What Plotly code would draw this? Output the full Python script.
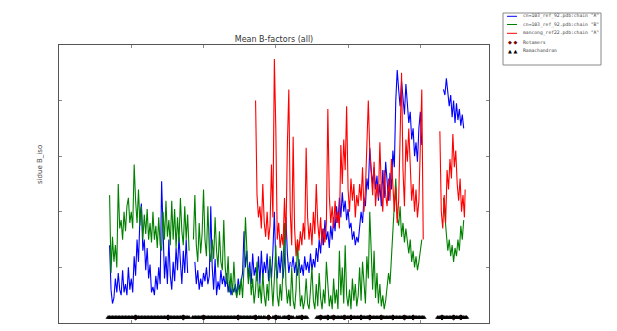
import plotly.graph_objects as go

# ---- data (residue number, mean B-factor) ----
blue_seg1_x = list(range(70, 180, 2))
blue_seg1_y = [28,12,7,9,16,11,18,12,10,19,11,14,10,20,12,16,11,24,17,30,22,38,43,26,30,19,27,16,21,11,
               13,10,17,12,20,14,51,28,16,24,14,30,17,12,22,15,27,19,31,22,14,26,18,30,18]
blue_seg2_x = list(range(188, 322, 2))
blue_seg2_y = [22,14,19,12,16,13,18,15,20,14,17,42,20,12,23,10,15,12,19,14,17,13,18,11,15,10,13,11,14,10,
               16,12,15,18,33,20,26,16,22,14,25,17,20,15,24,14,26,16,22,18,25,15,23,16,26,40,21,16,24,18,
               26,16,22,38,25,18,22]
blue_seg3_x = list(range(322, 504, 2))
blue_seg3_y = [20,24,18,22,17,23,18,21,17,24,19,22,18,25,19,23,20,27,22,30,25,34,28,37,30,33,27,35,30,38,
               33,42,36,45,38,47,40,44,37,41,34,36,30,33,28,31,29,35,40,36,45,42,52,48,63,55,50,56,48,53,
               44,50,42,55,45,58,50,44,54,48,62,56,80,91,84,78,87,80,75,86,78,72,76,66,70,60,65,58,70,76,64]
blue_seg4_x = list(range(532, 562, 2))
blue_seg4_y = [84,82,88,84,78,82,74,80,72,79,73,77,71,75,70]

green_seg1_x = list(range(70, 182, 2))
green_seg1_y = [46,18,31,22,28,20,50,34,37,30,40,33,42,45,36,40,34,57,44,36,48,35,42,30,39,32,41,30,36,29,
                40,30,35,27,38,28,26,40,30,44,31,37,28,44,30,41,27,38,29,45,33,28,42,30,39,26]
green_seg2_x = list(range(186, 504, 2))
green_seg2_y = [30,46,28,22,36,25,32,48,30,24,42,26,22,30,23,38,26,20,33,22,19,37,20,14,24,11,18,10,22,12,
                9,14,10,16,9,20,38,24,14,20,10,16,7,12,22,9,14,7,18,10,6,14,8,24,12,6,16,28,10,6,
                14,8,20,36,14,7,12,6,20,8,5,12,30,14,6,10,5,8,16,7,5,12,20,8,5,14,6,18,9,5,
                12,7,22,14,6,10,5,16,7,12,5,26,10,20,7,28,10,6,12,5,16,8,14,6,10,20,8,22,12,7,
                24,16,40,22,12,26,9,18,7,14,6,10,5,8,12,18,14,23,30,41,52,38,35,42,31,36,29,34,
                28,25,30,22,26,20,24,19,22,26,30]
green_seg3_x = list(range(532, 562, 2))
green_seg3_y = [45,37,32,26,30,24,28,22,27,24,30,26,35,30,37]

red_seg1_x = list(range(272, 506, 2))
red_seg1_y = [80,46,38,42,34,50,36,31,40,30,35,57,38,95,70,30,36,27,32,28,45,30,64,84,40,28,67,34,24,30,
              26,33,28,36,30,63,38,30,36,28,40,32,50,36,30,38,28,34,29,36,77,46,36,42,34,44,36,40,34,64,
              50,66,55,78,48,40,52,44,50,38,46,42,50,44,56,40,48,64,80,62,52,46,58,42,50,45,65,48,40,55,
              46,42,52,44,59,48,40,49,36,44,70,90,55,42,66,58,70,54,44,50,40,48,38,44,60,84,30]
red_seg2_x = [527,529,531,533,535,537,539,541,543,545,547,549,551,553,555,557,559,561,562]
red_seg2_y = [69,40,34,46,36,55,48,59,52,68,56,62,50,44,52,40,46,38,48]

# residues flagged as Ramachandran / rotamer outliers
rama_runs = [(68,180),(185,274),(276,280),(283,286),(289,292),(296,306),(310,324),(329,344),(357,506),(524,564)]
rotamer_x = [106,151,172,200,248,272,290,300,318,336,362,372,380,395,404,418,430,446,462,478,490,530,546,556]
outlier_level = 2

series_names = ['cn=103_ref_92.pdb:chain "A"', 'cn=103_ref_92.pdb:chain "B"', 'mancong_ref22.pdb:chain "A"']
series_colors = ['#0000ff', '#008000', '#ff0000']
legend_labels = series_names + ['Rotamers', 'Ramachandran']


def join(*segs):
    xs, ys = [], []
    for sx, sy in segs:
        if xs:
            xs.append(None); ys.append(None)
        xs += sx; ys += sy
    return xs, ys


bx, by = join((blue_seg1_x, blue_seg1_y), (blue_seg2_x, blue_seg2_y), (blue_seg3_x, blue_seg3_y), (blue_seg4_x, blue_seg4_y))
gx, gy = join((green_seg1_x, green_seg1_y), (green_seg2_x, green_seg2_y), (green_seg3_x, green_seg3_y))
rx, ry = join((red_seg1_x, red_seg1_y), (red_seg2_x, red_seg2_y))

rama_x = []
for a, b in rama_runs:
    rama_x += list(range(a, b + 1, 2))

fig = go.Figure()
for (xs, ys), name, col in zip([(bx, by), (gx, gy), (rx, ry)], series_names, series_colors):
    fig.add_trace(go.Scatter(x=xs, y=ys, mode='lines', name=name,
                             line=dict(color=col, width=1.1), connectgaps=False))
fig.add_trace(go.Scatter(x=rotamer_x, y=[outlier_level] * len(rotamer_x), mode='markers', name='Rotamers',
                         marker=dict(symbol='diamond', size=4, color='#cc0000', line=dict(color='black', width=1))))
fig.add_trace(go.Scatter(x=rama_x, y=[outlier_level] * len(rama_x), mode='markers', name='Ramachandran',
                         marker=dict(symbol='triangle-up', size=4, color='black', line=dict(color='black', width=0.5))))

axis_common = dict(showgrid=False, zeroline=False, showticklabels=False, ticks='inside', ticklen=3,
                   tickcolor='#888', showline=True, linecolor='#555', linewidth=1, mirror='allticks')
fig.update_xaxes(range=[0, 595], dtick=100, tick0=0, **axis_common)
fig.update_yaxes(range=[0, 100], dtick=20, tick0=0, **axis_common)

W, H = 617, 331
ML, MR, MT, MB = 59, 128, 45, 8
PW, PH = W - ML - MR, H - MT - MB


def px(x):
    return (x - ML) / PW


def py(y):
    return 1 - (y - MT) / PH


shapes = [dict(type='rect', xref='paper', yref='paper', x0=px(503), x1=px(601), y0=py(13), y1=py(65),
               line=dict(color='#888', width=1), fillcolor='white', layer='above')]
annotations = []
row_y = [16.3, 24.5, 33.3, 42.2, 51]
for i, lab in enumerate(legend_labels):
    yy = row_y[i]
    if i < 3:
        shapes.append(dict(type='line', xref='paper', yref='paper', x0=px(507), x1=px(517), y0=py(yy), y1=py(yy),
                           line=dict(color=series_colors[i], width=1), layer='above'))
    else:
        sym = '\u25c6 \u25c6' if i == 3 else '\u25b2 \u25b2'
        col = '#7a0000' if i == 3 else 'black'
        annotations.append(dict(text=sym, x=px(512), y=py(yy), xref='paper', yref='paper', xanchor='center',
                                yanchor='middle', showarrow=False, font=dict(size=5, color=col)))
    annotations.append(dict(text=lab, x=px(521), y=py(yy), xref='paper', yref='paper', xanchor='left',
                            yanchor='middle', showarrow=False,
                            font=dict(family='DejaVu Sans Mono', size=4.7, color='#444')))

annotations.append(dict(text='sidue B_iso', x=px(40), y=py(165), xref='paper', yref='paper',
                        xanchor='center', yanchor='middle', textangle=-90, showarrow=False,
                        font=dict(size=7, color='#444')))

fig.update_layout(
    width=W, height=H,
    margin=dict(l=ML, r=MR, t=MT, b=MB, autoexpand=False),
    paper_bgcolor='white', plot_bgcolor='white',
    font=dict(family='DejaVu Sans', size=7, color='#333'),
    title=dict(text='Mean B-factors (all)', x=274 / W, xanchor='center', xref='container',
               yref='container', y=1 - 39 / H, yanchor='middle',
               font=dict(size=8, color='#333')),
    showlegend=False,
    hovermode=False,
    shapes=shapes,
    annotations=annotations,
)

fig.write_html("out.html", config={'displayModeBar': False},
               post_script="document.body.style.margin='0';document.body.style.overflow='hidden';")
